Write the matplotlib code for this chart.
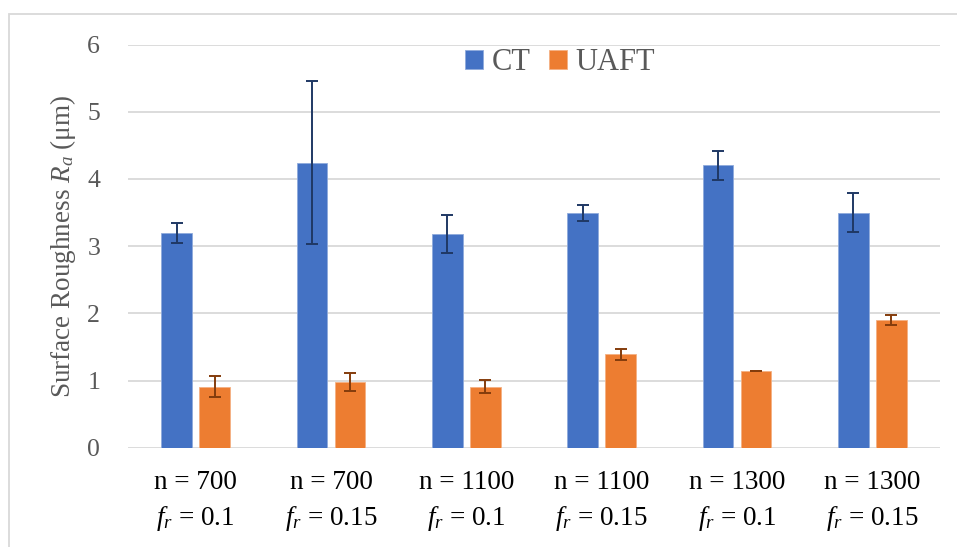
import numpy as np
import matplotlib as mpl
mpl.use("Agg")
import matplotlib.pyplot as plt
from matplotlib.patches import Rectangle

mpl.rcParams['font.family'] = ['Liberation Serif', 'DejaVu Serif']
mpl.rcParams['mathtext.fontset'] = 'custom'
mpl.rcParams['mathtext.rm'] = 'Liberation Serif'
mpl.rcParams['mathtext.it'] = 'Liberation Serif:italic'

# data
categories = ["n = 700\n$f_r$ = 0.1", "n = 700\n$f_r$ = 0.15",
              "n = 1100\n$f_r$ = 0.1", "n = 1100\n$f_r$ = 0.15",
              "n = 1300\n$f_r$ = 0.1", "n = 1300\n$f_r$ = 0.15"]
ct = [3.20, 4.24, 3.18, 3.49, 4.20, 3.50]
ct_err = [0.15, 1.21, 0.28, 0.12, 0.22, 0.29]
uaft = [0.91, 0.98, 0.91, 1.39, 1.14, 1.90]
uaft_err = [0.16, 0.13, 0.10, 0.08, 0.005, 0.08]
yticks = [0, 1, 2, 3, 4, 5, 6]

fig = plt.figure(figsize=(9.57, 5.47), dpi=100)
ax = fig.add_axes([128 / 957, 1 - 447.7 / 547, 812 / 957, (447.7 - 44.5) / 547])

x = np.arange(len(categories))
w = 0.225
off = 0.14
ax.bar(x - off, ct, w, color='#4472C4', edgecolor='#8FAADC', linewidth=0.6,
       label='CT', zorder=3)
ax.bar(x + off, uaft, w, color='#ED7D31', edgecolor='#F4B183', linewidth=0.6,
       label='UAFT', zorder=3)
ax.errorbar(x - off, ct, yerr=ct_err, fmt='none', ecolor='#1F3864',
            elinewidth=1.4, capsize=4.5, capthick=1.4, zorder=4)
ax.errorbar(x + off, uaft, yerr=uaft_err, fmt='none', ecolor='#843C0C',
            elinewidth=1.4, capsize=4.5, capthick=1.4, zorder=4)

ax.set_xlim(-0.5, len(categories) - 0.5)
ax.set_ylim(0, 6)
ax.set_yticks(yticks)
ax.set_xticks(x)
ax.set_xticklabels(categories, fontsize=19.5, color='black', linespacing=1.42)
ax.tick_params(axis='y', length=0, pad=20, labelsize=18.5, labelcolor='#595959')
ax.tick_params(axis='x', length=0, pad=16)
ax.grid(axis='y', color='#D9D9D9', linewidth=1.3, zorder=0)
for s in ax.spines.values():
    s.set_visible(False)

ax.set_ylabel('Surface Roughness $R_a$ (μm)', fontsize=19.5, color='#595959')
ax.yaxis.set_label_coords(-0.061, 0.5)

leg = ax.legend(loc='center', bbox_to_anchor=(560 / 957, 1 - 63 / 547),
                bbox_transform=fig.transFigure, ncol=2, frameon=False,
                fontsize=22, handlelength=0.6, handleheight=0.6,
                handletextpad=0.27, columnspacing=0.6)
for t in leg.get_texts():
    t.set_color('#595959')

# light chart border
fig.patches.append(Rectangle((9 / 957, -0.01), 1.0, 1 - 14 / 547 + 0.01,
                             transform=fig.transFigure, fill=False,
                             edgecolor='#D9D9D9', linewidth=1.3))

fig.savefig('out.png', dpi=100)
